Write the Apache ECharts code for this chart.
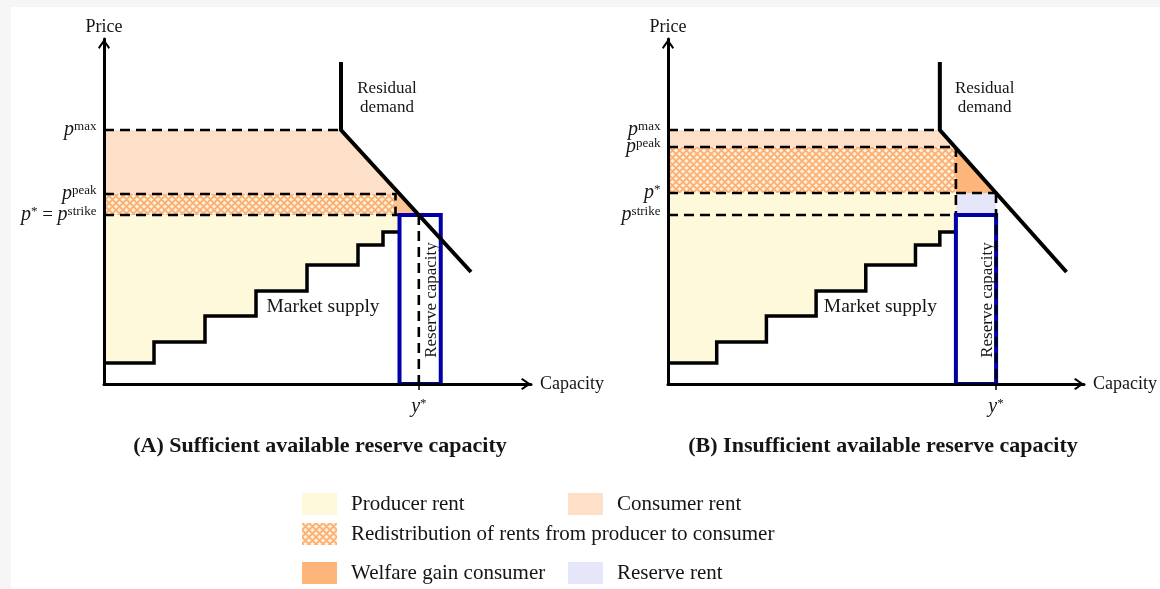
<!DOCTYPE html>
<html><head><meta charset="utf-8">
<script src="https://cdn.jsdelivr.net/npm/echarts@6.0.0/dist/echarts.min.js"></script>
<style>
html,body{margin:0;padding:0;background:#f6f6f6;width:1160px;height:589px;overflow:hidden}
#c{position:absolute;left:11px;top:7px;width:1149px;height:582px;background:#fff}
</style></head><body><div id="c"></div>
<script>
// ---------------- data (capacity units / price units) ----------------
const supplyEdges  = [0, 10, 20.2, 30.4, 40.6, 50.8, 55.8, 59.1];   // step boundaries
const supplyPrices = [5.25, 10.5, 17, 23.25, 29.75, 34.75, 38];     // price of each step
const demandA = [[47.4, 80.5], [47.4, 63.5], [73.4, 28]];           // residual demand, panel A
const demandB = [[55.8, 80.5], [55.8, 63.5], [81.8, 28]];           // residual demand, panel B
const priceTicksA  = [63.5, 47.5, 42.25];                           // p^max, p^peak, p*=p^strike
const priceLabelsA = ['{i|p}{s|max}', '{i|p}{s|peak}', '{i|p}{a|*}{n| = }{i|p}{s|strike}'];
const priceTicksB  = [63.5, 59.25, 47.75, 42.25];                   // p^max, p^peak, p*, p^strike
const priceLabelsB = ['{i|p}{s|max}', '{i|p}{s|peak}', '{i|p}{a|*}', '{i|p}{s|strike}'];
const reserveRange = [59.1, 67.35];                                 // reserve capacity block
const redistEndA   = 58.3;
const capLabel     = '{i|y}{a|*}';
const legendNames  = ['Producer rent', 'Consumer rent', 'Redistribution of rents from producer to consumer',
                      'Welfare gain consumer', 'Reserve rent'];
const titles = ['(A) Sufficient available reserve capacity', '(B) Insufficient available reserve capacity'];

// ---------------- derived geometry ----------------
const FONT = '"Liberation Serif","Times New Roman",serif';
const INK = '#151515';
const C_PROD = '#fef9db', C_CONS = '#fde0c7', C_WELF = '#fdb57a', C_RES = '#e6e6fa', C_BLUE = '#0000a6';

function demandX(dem, p) { const a = dem[1], b = dem[2]; return a[0] + (a[1] - p) * (b[0] - a[0]) / (a[1] - b[1]); }
const [pMaxA, pPeakA, pStarA] = priceTicksA;
const [pMaxB, pPeakB, pStarB, pStrikeB] = priceTicksB;
const yStarA = demandX(demandA, pStarA);
const yStarB = demandX(demandB, pStarB);
const r0 = reserveRange[0], r1 = reserveRange[1];

const stairs = [];
supplyPrices.forEach((p, i) => { stairs.push([supplyEdges[i], p], [supplyEdges[i + 1], p]); });
const stairsRev = stairs.slice().reverse();

function hatchCanvas() {
  const s = 7, c = document.createElement('canvas'); c.width = c.height = s;
  const g = c.getContext('2d');
  g.fillStyle = '#fff0dc'; g.fillRect(0, 0, s, s);
  g.strokeStyle = '#fcae70'; g.lineWidth = 1.8; g.beginPath();
  for (const o of [-s, 0, s]) { g.moveTo(o, 0); g.lineTo(o + s, s); g.moveTo(o + s, 0); g.lineTo(o, s); }
  g.stroke(); return c;
}
const HATCH = { image: hatchCanvas(), repeat: 'repeat' };

const rich = {
  i: { fontFamily: FONT, fontStyle: 'italic', fontSize: 20, color: INK, verticalAlign: 'bottom', lineHeight: 20 },
  n: { fontFamily: FONT, fontSize: 19, color: INK, verticalAlign: 'bottom', lineHeight: 20 },
  s: { fontFamily: FONT, fontSize: 13, color: INK, verticalAlign: 'top', lineHeight: 11 },
  a: { fontFamily: FONT, fontSize: 13, color: INK, verticalAlign: 'top', lineHeight: 11 }
};

function area(name, g, polys, fill, z) {
  return { type: 'custom', name, xAxisIndex: g, yAxisIndex: g, silent: true, z: z || 1,
    itemStyle: { color: fill }, data: polys.map(p => p[0]),
    renderItem: (params, api) => ({ type: 'polygon',
      shape: { points: polys[params.dataIndex].map(pt => api.coord(pt)) },
      style: { fill: fill, stroke: null } }) };
}
function outline(g, poly, color, width, z) {
  return { type: 'custom', xAxisIndex: g, yAxisIndex: g, silent: true, z, data: [poly[0]],
    renderItem: (params, api) => ({ type: 'polygon', shape: { points: poly.map(pt => api.coord(pt)) },
      style: { fill: null, stroke: color, lineWidth: width, lineJoin: 'miter' } }) };
}
function line(g, pts, dashed, width, z) {
  return { type: 'line', xAxisIndex: g, yAxisIndex: g, data: pts, symbol: 'none', silent: true, clip: false, z,
    lineStyle: { color: '#000', width, type: dashed ? [10, 6] : 'solid', join: 'miter' } };
}
function note(g, pts) {
  return { type: 'scatter', xAxisIndex: g, yAxisIndex: g, symbolSize: 1, silent: true, z: 9, clip: false,
    itemStyle: { color: 'rgba(0,0,0,0)', opacity: 1 },
    label: { show: true, position: 'inside', color: INK, opacity: 1, fontFamily: FONT, fontSize: 19.5 },
    data: pts };
}
// price level labels placed at x = 0 of each panel, written to the left of the price axis
function priceLabels(g, ticks, labels) {
  return { type: 'scatter', xAxisIndex: g, yAxisIndex: g, symbolSize: 1, silent: true, z: 9, clip: false,
    itemStyle: { color: 'rgba(0,0,0,0)', opacity: 1 },
    label: { show: true, position: 'left', distance: 7, opacity: 1, rich,
      formatter: p => labels[p.dataIndex] },
    labelLayout: { hideOverlap: false },
    data: ticks.map(t => [0, t]) };
}

const ARROW = 'path://M6,0 L12,8.6 L10.6,10 L6,3.4 L1.4,10 L0,8.6 Z';
const axisLine = { show: true, onZero: false, symbol: ['none', ARROW], symbolSize: [12, 10], symbolOffset: [0, -5],
  lineStyle: { color: '#000', width: 3 } };

function xAxis(g, tick) {
  return { gridIndex: g, type: 'value', min: 0, max: 85.4, z: 10, name: 'Capacity', nameLocation: 'end', nameGap: 9,
    nameTextStyle: { fontFamily: FONT, fontSize: 18, color: INK, align: 'left', verticalAlign: 'middle' },
    axisLine, splitLine: { show: false },
    axisTick: { show: true, customValues: [tick], length: 6, lineStyle: { color: '#000', width: 1.5 } },
    axisLabel: { customValues: [tick], hideOverlap: false, showMinLabel: true, showMaxLabel: true,
      formatter: () => capLabel, margin: 13, rich } };
}
function yAxis(g) {
  return { gridIndex: g, type: 'value', min: 0, max: 86.25, z: 10, name: 'Price', nameLocation: 'end', nameGap: 3,
    nameTextStyle: { fontFamily: FONT, fontSize: 18, color: INK },
    axisLine, splitLine: { show: false }, axisTick: { show: false }, axisLabel: { show: false } };
}

const series = [
  // ---- panel A fills
  area(legendNames[0], 0, [[[0, pStarA], [r0, pStarA], ...stairsRev]], C_PROD),
  area(legendNames[1], 0, [[[0, pMaxA], demandA[1], [demandX(demandA, pPeakA), pPeakA], [0, pPeakA]]], C_CONS),
  area(legendNames[2], 0, [[[0, pPeakA], [redistEndA, pPeakA], [redistEndA, pStarA], [0, pStarA]]], HATCH),
  area('gainA', 0, [[[redistEndA, pPeakA], [demandX(demandA, pPeakA), pPeakA], [yStarA, pStarA], [redistEndA, pStarA]]], '#fcc393'),
  // ---- panel B fills
  area(legendNames[0], 1, [[[0, pStarB], [r0, pStarB], ...stairsRev]], C_PROD),
  area(legendNames[1], 1, [[[0, pMaxB], demandB[1], [demandX(demandB, pPeakB), pPeakB], [0, pPeakB]]], C_CONS),
  area(legendNames[2], 1, [[[0, pPeakB], [r0, pPeakB], [r0, pStarB], [0, pStarB]]], HATCH),
  area(legendNames[3], 1, [[[r0, pPeakB], [yStarB, pStarB], [r0, pStarB]]], C_WELF),
  area(legendNames[4], 1, [[[r0, pStarB], [yStarB, pStarB], [yStarB, pStrikeB], [r0, pStrikeB]]], C_RES),
  // ---- panel A lines
  line(0, [[0, pMaxA], [demandA[1][0], pMaxA]], true, 2.6, 3),
  line(0, [[0, pPeakA], [redistEndA, pPeakA], [redistEndA, pStarA]], true, 2.6, 3),
  line(0, [[0, pStarA], [r0, pStarA]], true, 2.6, 3),
  line(0, stairs, false, 3.5, 4),
  outline(0, [[r0, 0], [r1, 0], [r1, pStarA], [r0, pStarA]], C_BLUE, 4, 5),
  line(0, demandA, false, 4, 6),
  line(0, [[yStarA, pStarA], [yStarA, 0]], true, 2.6, 7),
  // ---- panel B lines
  line(1, [[0, pMaxB], [demandB[1][0], pMaxB]], true, 2.6, 3),
  line(1, [[0, pPeakB], [r0, pPeakB], [r0, pStrikeB]], true, 2.6, 3),
  line(1, [[0, pStarB], [yStarB, pStarB]], true, 2.6, 3),
  line(1, [[0, pStrikeB], [r0, pStrikeB]], true, 2.6, 3),
  line(1, stairs, false, 3.5, 4),
  outline(1, [[r0, 0], [r1, 0], [r1, pStrikeB], [r0, pStrikeB]], C_BLUE, 4, 5),
  line(1, demandB, false, 4, 6),
  line(1, [[yStarB, pStarB], [yStarB, 0]], true, 2.6, 7),
  // ---- price level labels
  priceLabels(0, priceTicksA, priceLabelsA),
  priceLabels(1, priceTicksB, priceLabelsB),
  // ---- annotations
  note(0, [{ value: [56.6, 71.6], label: { formatter: 'Residual\ndemand', fontSize: 17, lineHeight: 19 } },
           { value: [43.8, 19.25], label: { formatter: 'Market supply' } },
           { value: [65.6, 21], label: { formatter: 'Reserve capacity', rotate: 90, fontSize: 17 } }]),
  note(1, [{ value: [65, 71.6], label: { formatter: 'Residual\ndemand', fontSize: 17, lineHeight: 19 } },
           { value: [43.6, 19.25], label: { formatter: 'Market supply' } },
           { value: [65.6, 21], label: { formatter: 'Reserve capacity', rotate: 90, fontSize: 17 } }])
];

const legendFills = [C_PROD, C_CONS, HATCH, C_WELF, C_RES];
const legendPos = [[291, 486], [557, 486], [291, 516], [291, 555], [557, 555]];
const legend = legendNames.map((n, k) => ({
  left: legendPos[k][0], top: legendPos[k][1], padding: 0, icon: 'rect', itemWidth: 35, itemHeight: 22,
  selectedMode: false, data: [{ name: n, itemStyle: { color: legendFills[k] } }],
  textStyle: { fontFamily: FONT, fontSize: 21, color: INK, padding: [2, 0, 0, 9] }
}));

const chart = echarts.init(document.getElementById('c'), null, { renderer: 'canvas' });
chart.setOption({
  animation: false,
  backgroundColor: '#fff',
  title: titles.map((t, k) => ({ text: t, left: k ? 872 : 309, top: 428, textAlign: 'center', padding: 0,
    textStyle: { fontFamily: FONT, fontWeight: 'bold', fontSize: 22, color: INK } })),
  legend,
  grid: [{ left: 93, top: 32, width: 427, height: 345 }, { left: 657, top: 32, width: 427, height: 345 }],
  xAxis: [xAxis(0, yStarA), xAxis(1, yStarB)],
  yAxis: [yAxis(0), yAxis(1)],
  series
});
</script></body></html>
